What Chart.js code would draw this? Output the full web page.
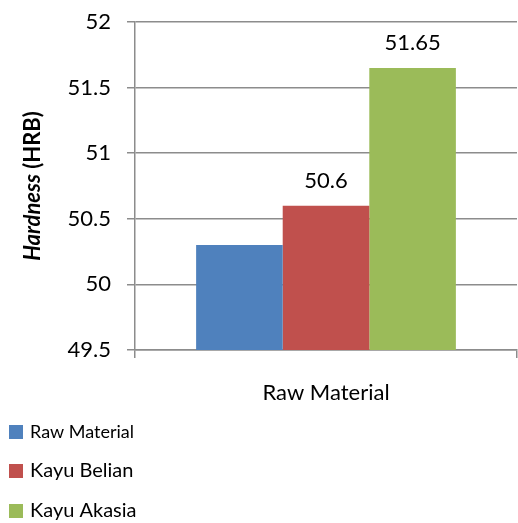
<!DOCTYPE html>
<html>
<head>
<meta charset="utf-8">
<script src="https://cdn.jsdelivr.net/npm/chart.js@4"></script>
<style>
  html, body { margin: 0; padding: 0; background: #fff; }
  #wrap { width: 518px; height: 523px; }
</style>
</head>
<body>
<div id="wrap"><canvas id="c" width="518" height="523"></canvas></div>
<script>
const categories = ['Raw Material'];
const seriesNames = ['Raw Material', 'Kayu Belian', 'Kayu Akasia'];
const rawMaterial = [50.3];
const kayuBelian = [50.6];
const kayuAkasia = [51.65];
const yTicks = [49.5, 50, 50.5, 51, 51.5, 52];
const showValueLabel = [false, true, true];
const seriesColors = ['#4F81BD', '#C0504D', '#9BBB59'];
const axisTitleParts = [['Hardness', 'italic bold'], [' (HRB)', 'bold']];

const FONT = 'Lato, "Open Sans", sans-serif';

const valueLabelPlugin = {
  id: 'valueLabels',
  afterDatasetsDraw(chart) {
    const ctx = chart.ctx;
    ctx.save();
    ctx.font = '22px ' + FONT;
    ctx.fillStyle = '#000';
    ctx.textAlign = 'center';
    ctx.textBaseline = 'middle';
    chart.data.datasets.forEach((ds, i) => {
      if (!showValueLabel[i]) return;
      const meta = chart.getDatasetMeta(i);
      meta.data.forEach((bar, j) => {
        ctx.fillText(String(ds.data[j]), bar.x, bar.y - 25);
      });
    });
    ctx.restore();
  }
};

const axisTitlePlugin = {
  id: 'axisTitle',
  afterDraw(chart) {
    const ctx = chart.ctx;
    const ca = chart.chartArea;
    ctx.save();
    ctx.translate(33, (ca.top + ca.bottom) / 2);
    ctx.rotate(-Math.PI / 2);
    ctx.fillStyle = '#000';
    ctx.textBaseline = 'middle';
    let total = 0;
    const widths = axisTitleParts.map(([t, s]) => {
      ctx.font = s + ' 22px ' + FONT;
      const w = ctx.measureText(t).width;
      total += w;
      return w;
    });
    let x = -total / 2;
    ctx.textAlign = 'left';
    axisTitleParts.forEach(([t, s], k) => {
      ctx.font = s + ' 22px ' + FONT;
      ctx.fillText(t, x, 0);
      x += widths[k];
    });
    ctx.restore();
  }
};

const legendPlugin = {
  id: 'vertLegend',
  afterDraw(chart) {
    const ctx = chart.ctx;
    const rowsY = [432, 471, 511];
    const sizes = [18, 20, 20];
    ctx.save();
    chart.data.datasets.forEach((ds, i) => {
      const y = rowsY[i];
      ctx.fillStyle = ds.backgroundColor;
      ctx.fillRect(9, y - 7, 14, 14);
      ctx.fillStyle = '#000';
      ctx.font = sizes[i] + 'px ' + FONT;
      ctx.textAlign = 'left';
      ctx.textBaseline = 'middle';
      ctx.fillText(ds.label, 30, y);
    });
    ctx.restore();
  }
};

const datasetValues = [rawMaterial, kayuBelian, kayuAkasia];

new Chart(document.getElementById('c'), {
  type: 'bar',
  data: {
    labels: categories,
    datasets: seriesNames.map((name, i) => ({
      label: name,
      data: datasetValues[i],
      backgroundColor: seriesColors[i],
      borderWidth: 0,
      categoryPercentage: 0.68,
      barPercentage: 1.0
    }))
  },
  options: {
    responsive: false,
    animation: false,
    devicePixelRatio: 1,
    layout: { padding: { top: 22, right: 1, left: 0, bottom: 0 } },
    plugins: {
      legend: { display: false },
      tooltip: { enabled: false }
    },
    scales: {
      x: {
        offset: true,
        grid: { display: true, drawOnChartArea: false, drawTicks: true, tickLength: 8, color: '#8c8c8c', lineWidth: 1.5 },
        border: { display: true, color: '#8c8c8c', width: 1.5 },
        ticks: { color: '#000', font: { family: FONT, size: 22 }, padding: 22 },
        afterFit(scale) { scale.height = 173; scale.paddingLeft = 0; scale.paddingRight = 0; }
      },
      y: {
        min: 49.5,
        max: 52,
        afterBuildTicks(scale) { scale.ticks = yTicks.map(v => ({ value: v })); },
        grid: { color: '#8c8c8c', lineWidth: 1.5, drawTicks: true, tickLength: 8 },
        border: { display: true, color: '#8c8c8c', width: 1.5 },
        ticks: {
          color: '#000',
          font: { family: FONT, size: 22 },
          padding: 16,
          callback: (v) => String(Number(v))
        },
        afterFit(scale) { scale.width = 135; scale.paddingTop = 0; scale.paddingBottom = 0; }
      }
    }
  },
  plugins: [valueLabelPlugin, axisTitlePlugin, legendPlugin]
});
</script>
</body>
</html>
